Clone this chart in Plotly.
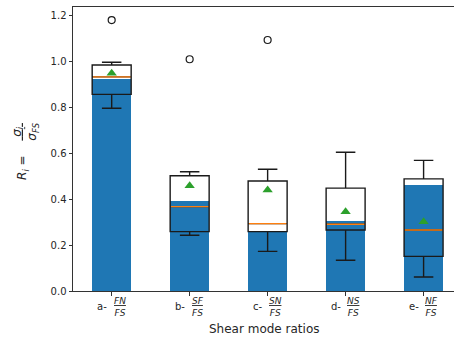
import plotly.graph_objects as go

# ---- data ----
prefixes = ["a-", "b-", "c-", "d-", "e-"]
numerators = ["FN", "SF", "SN", "NS", "NF"]
denominators = ["FS", "FS", "FS", "FS", "FS"]
bar_heights = [0.925, 0.394, 0.259, 0.307, 0.461]
q1 = [0.858, 0.259, 0.259, 0.266, 0.151]
medians = [0.934, 0.368, 0.294, 0.291, 0.266]
q3 = [0.986, 0.503, 0.480, 0.449, 0.489]
lower_whisker = [0.797, 0.243, 0.173, 0.134, 0.061]
upper_whisker = [0.998, 0.520, 0.531, 0.605, 0.570]
means = [0.950, 0.459, 0.441, 0.346, 0.302]
outlier_cat = [0, 1, 2]
outlier_val = [1.182, 1.011, 1.095]
y_ticks = [0.0, 0.2, 0.4, 0.6, 0.8, 1.0, 1.2]

# ---- styles ----
BLUE = "#1f77b4"
ORANGE = "#ff7f0e"
GREEN = "#2ca02c"
FONT = "DejaVu Sans"
TXT = "#262626"
WIDTH = 0.5

pos = list(range(len(prefixes)))

fig = go.Figure()
fig.add_trace(go.Bar(x=pos, y=bar_heights, width=WIDTH, marker=dict(color=BLUE, line=dict(width=0)),
                     showlegend=False, hoverinfo="skip"))
fig.add_trace(go.Box(x=pos, q1=q1, median=medians, q3=q3, lowerfence=lower_whisker,
                     upperfence=upper_whisker, width=WIDTH, whiskerwidth=0.5,
                     fillcolor="rgba(0,0,0,0)", line=dict(color="#1a1a1a", width=1.4),
                     boxpoints=False, showlegend=False))
# median lines in orange
mx, my = [], []
for p, m in zip(pos, medians):
    mx += [p - WIDTH / 2 + 0.01, p + WIDTH / 2 - 0.01, None]
    my += [m, m, None]
fig.add_trace(go.Scatter(x=mx, y=my, mode="lines", line=dict(color=ORANGE, width=1.4),
                         showlegend=False, hoverinfo="skip"))
fig.add_trace(go.Scatter(x=pos, y=means, mode="markers",
                         marker=dict(symbol="triangle-up", color=GREEN, size=9),
                         showlegend=False))
fig.add_trace(go.Scatter(x=outlier_cat, y=outlier_val, mode="markers",
                         marker=dict(symbol="circle-open", color="#1a1a1a", size=7, line=dict(width=1.2)),
                         showlegend=False))

annotations = []
for p, pre, num, den in zip(pos, prefixes, numerators, denominators):
    annotations.append(dict(x=p, xref="x", y=-0.056, yref="paper", xshift=-10, text=pre,
                            showarrow=False, xanchor="center", yanchor="middle",
                            font=dict(family=FONT, size=10, color=TXT)))
    annotations.append(dict(x=p, xref="x", y=-0.056, yref="paper", xshift=8,
                            text="<u><i>%s</i></u><br><i>%s</i>" % (num, den),
                            showarrow=False, xanchor="center", yanchor="middle",
                            font=dict(family=FONT, size=9, color=TXT)))
annotations.append(dict(x=0.5, xref="paper", y=-0.134, yref="paper", text="Shear mode ratios",
                        showarrow=False, xanchor="center", yanchor="middle",
                        font=dict(family=FONT, size=12, color=TXT)))
annotations.append(dict(x=-0.13, xref="paper", y=0.435, yref="paper",
                        text="<i>R<sub>i</sub></i> =", textangle=-90,
                        showarrow=False, xanchor="center", yanchor="middle",
                        font=dict(family=FONT, size=12, color=TXT)))
annotations.append(dict(x=-0.124, xref="paper", y=0.56, yref="paper",
                        text="<u> <i>σ<sub>i</sub></i> </u><br><i>σ<sub>FS</sub></i>", textangle=-90,
                        showarrow=False, xanchor="center", yanchor="middle",
                        font=dict(family=FONT, size=12, color=TXT)))

fig.update_layout(
    width=454, height=340,
    margin=dict(l=73, r=0, t=7, b=49),
    paper_bgcolor="white", plot_bgcolor="white",
    font=dict(family=FONT, size=10, color=TXT),
    annotations=annotations,
    bargap=0,
)
fig.update_xaxes(range=[-0.496, 4.39], tickvals=pos, showticklabels=False,
                 ticks="outside", ticklen=3.5, tickcolor="#333", showgrid=False, zeroline=False,
                 showline=True, linecolor="#333", linewidth=1, mirror=True)
fig.update_yaxes(range=[0, 1.239], tickvals=y_ticks, ticktext=["%.1f" % v for v in y_ticks],
                 ticks="outside", ticklen=3.5, tickcolor="#333", showgrid=False, zeroline=False,
                 showline=True, linecolor="#333", linewidth=1, mirror=False,
                 tickfont=dict(family=FONT, size=10, color=TXT))

fig.write_html("out.html", config={"displayModeBar": False},
               post_script="document.body.style.margin='0';document.body.style.overflow='hidden';")
